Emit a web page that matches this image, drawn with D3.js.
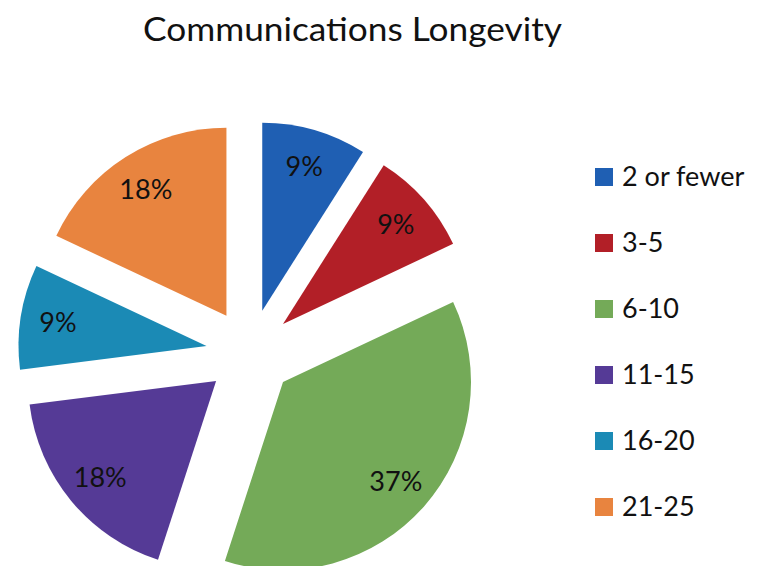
<!DOCTYPE html>
<html lang="en">
<head>
<meta charset="utf-8">
<script src="https://d3js.org/d3.v7.min.js"></script>
<style>
  html, body { margin: 0; padding: 0; background: #ffffff; }
  svg { display: block; }
  text { font-family: Lato, "Open Sans", sans-serif; fill: #111; }
</style>
</head>
<body>
<script>
// chart data
var categories = ["2 or fewer", "3-5", "6-10", "11-15", "16-20", "21-25"];
var percents = [9, 9, 37, 18, 9, 18];
var colors = ["#1f5fb3", "#b21f27", "#74aa58", "#553a96", "#1b8ab5", "#e8843f"];
var title = "Communications Longevity";

var width = 760, height = 566;
var cx = 250, cy = 353, radius = 188, explode = 44;

var svg = d3.select("body").append("svg")
    .attr("width", width)
    .attr("height", height);

// title
svg.append("text")
    .attr("x", 143)
    .attr("y", 41)
    .attr("textLength", 419)
    .attr("lengthAdjust", "spacingAndGlyphs")
    .style("font-size", "32px")
    .text(title);

var pie = d3.pie().sort(null).value(function(d) { return d; });
var arcs = pie(percents);

var arc = d3.arc().innerRadius(0).outerRadius(radius);
var labelArc = d3.arc().innerRadius(radius * 0.8).outerRadius(radius * 0.8);

var g = svg.append("g")
    .attr("transform", "translate(" + cx + "," + cy + ")");

// each slice pulled out along its bisector
var slice = g.selectAll(".slice")
    .data(arcs)
    .enter().append("g")
    .attr("class", "slice")
    .attr("transform", function(d) {
        var a = (d.startAngle + d.endAngle) / 2;
        return "translate(" + (Math.sin(a) * explode) + "," + (-Math.cos(a) * explode) + ")";
    });

slice.append("path")
    .attr("d", arc)
    .style("fill", function(d, i) { return colors[i]; });

slice.append("text")
    .attr("transform", function(d) { return "translate(" + labelArc.centroid(d) + ")"; })
    .attr("text-anchor", "middle")
    .attr("dy", "0.36em")
    .style("font-size", "27px")
    .text(function(d) { return d.value + "%"; });

// legend
var legend = svg.append("g")
    .attr("transform", "translate(595,168)");

var item = legend.selectAll(".item")
    .data(categories)
    .enter().append("g")
    .attr("class", "item")
    .attr("transform", function(d, i) { return "translate(0," + (i * 66) + ")"; });

item.append("rect")
    .attr("width", 18)
    .attr("height", 18)
    .style("fill", function(d, i) { return colors[i]; });

item.append("text")
    .attr("x", 27)
    .attr("y", 18)
    .style("font-size", "27px")
    .text(function(d) { return d; });
</script>
</body>
</html>
